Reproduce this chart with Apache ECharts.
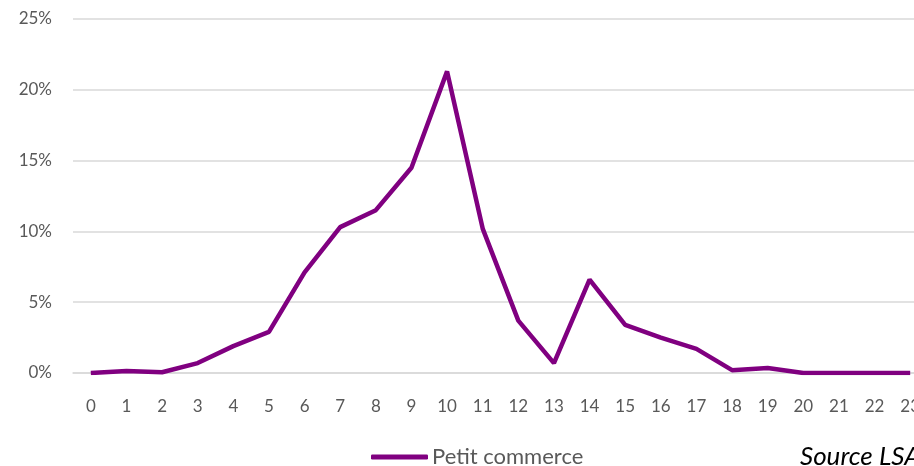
<!DOCTYPE html>
<html><head><meta charset="utf-8">
<script src="https://cdn.jsdelivr.net/npm/echarts@6/dist/echarts.min.js"></script>
<style>html,body{margin:0;padding:0;background:#fff;overflow:hidden}#c{width:928px;height:466px}</style>
</head><body><div id="c"></div>
<script>
var hours = ['0','1','2','3','4','5','6','7','8','9','10','11','12','13','14','15','16','17','18','19','20','21','22','23'];
var petitCommerce = [0, 0.14, 0.05, 0.7, 1.9, 2.9, 7.1, 10.3, 11.5, 14.5, 21.3, 10.2, 3.7, 0.7, 6.6, 3.4, 2.5, 1.7, 0.2, 0.35, 0, 0, 0, 0];
var yTicks = [0, 5, 10, 15, 20, 25];
var seriesName = 'Petit commerce';
var sourceText = 'Source LSA';

var chart = echarts.init(document.getElementById('c'));
chart.setOption({
  backgroundColor: '#fff',
  animation: false,
  grid: { left: 73, top: 19, bottom: 93, right: 0, containLabel: false },
  xAxis: {
    type: 'category', data: hours, boundaryGap: true,
    axisLine: { show: true, lineStyle: { color: '#d9d9d9', width: 1.5 } },
    axisTick: { show: false },
    axisLabel: { color: '#595959', fontSize: 17, fontFamily: 'Lato', margin: 25, interval: 0 }
  },
  yAxis: {
    type: 'value', min: yTicks[0], max: yTicks[yTicks.length - 1], interval: 5,
    axisLine: { show: false }, axisTick: { show: false },
    splitLine: { lineStyle: { color: '#d9d9d9', width: 1.5 } },
    axisLabel: { color: '#595959', fontSize: 17, fontFamily: 'Lato', margin: 21, formatter: '{value}%' }
  },
  legend: {
    show: true, top: 446, left: 371, padding: 0, itemWidth: 57, itemHeight: 5, itemGap: 4,
    icon: 'roundRect',
    textStyle: { color: '#595959', fontSize: 22, fontFamily: 'Lato', padding: [0, 0, 0, -1] },
    data: [seriesName]
  },
  series: [{
    name: seriesName, type: 'line', data: petitCommerce, symbol: 'none',
    lineStyle: { color: '#800080', width: 4.5 }, itemStyle: { color: '#800080' }
  }],
  graphic: [{
    type: 'text', left: 800, top: 444,
    style: { text: sourceText, fill: '#000', font: 'italic 26px Lato' }
  }]
});
</script></body></html>
